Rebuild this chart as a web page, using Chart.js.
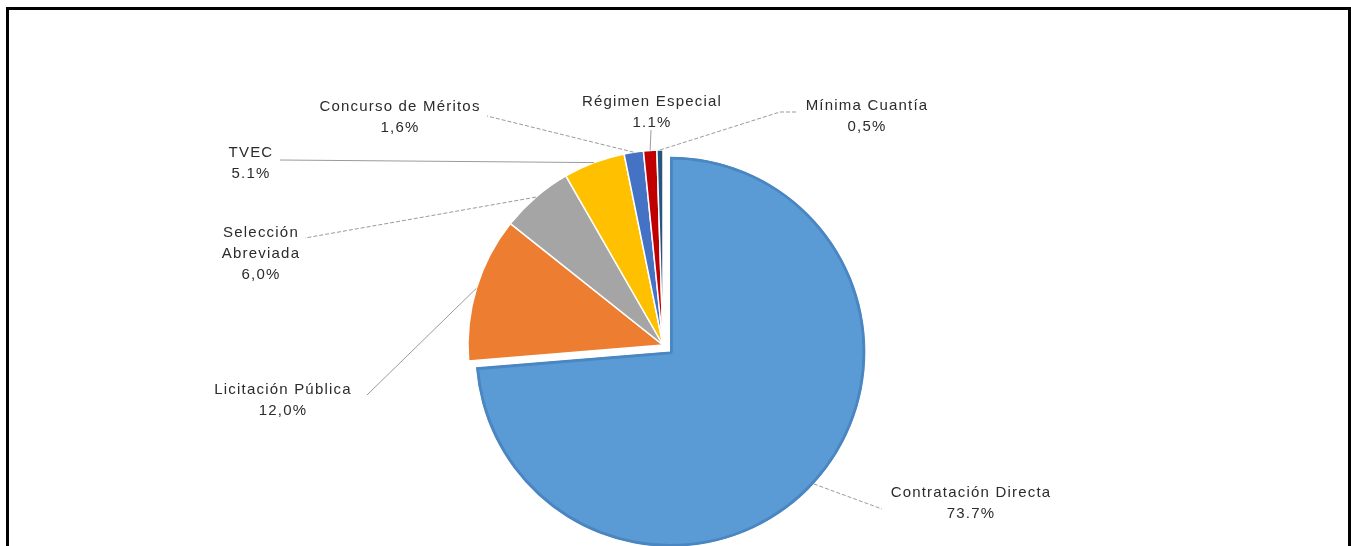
<!DOCTYPE html>
<html><head><meta charset="utf-8">
<script src="https://cdn.jsdelivr.net/npm/chart.js@4/dist/chart.umd.min.js"></script>
<style>
html,body{margin:0;padding:0;background:#fff;width:1351px;height:546px;overflow:hidden;}
#wrap{position:absolute;left:0;top:0;width:1351px;height:546px;}
#frame{position:absolute;left:6px;top:7px;width:1345px;height:600px;box-sizing:border-box;border:3px solid #000;border-bottom:none;pointer-events:none;}
</style></head><body>
<div id="wrap"><canvas id="c" width="1351" height="546"></canvas></div>
<div id="frame"></div>
<script>
// ---- data ----
const categories = ['Contratación Directa', 'Licitación Pública', 'Selección Abreviada', 'TVEC', 'Concurso de Méritos', 'Régimen Especial', 'Mínima Cuantía'];
const values = [73.7, 12.0, 6.0, 5.1, 1.6, 1.1, 0.5];
const percentLabels = ['73.7%', '12,0%', '6,0%', '5.1%', '1,6%', '1.1%', '0,5%'];

// ---- styles / layout ----
const colors = ['#5b9bd5', '#ed7d31', '#a5a5a5', '#ffc000', '#4472c4', '#c00000', '#26557f'];
const borderColors = ['#4a86c1', '#ffffff', '#ffffff', '#ffffff', '#ffffff', '#ffffff', '#ffffff'];
const borderWidths = [2.5, 1.5, 1.5, 1.5, 1.5, 1.5, 1.5];
const explode = [10, 0, 0, 0, 0, 0, 0];
// label text centre, line centres, leader attach point, optional elbow, line-wrap
const labelLayout = [
  {x: 971, y: 493, ax: 882, ay: 509, dash: true},
  {x: 283, y: 390, ax: 367, ay: 395, dash: false},
  {x: 261, y: 233, ax: 305, ay: 238, dash: true, wrap: true},
  {x: 251, y: 153, ax: 280, ay: 160, dash: false},
  {x: 400, y: 107, ax: 487, ay: 116, dash: true},
  {x: 652, y: 102, ax: 651, ay: 130, dash: false},
  {x: 867, y: 106, ax: 798, ay: 112, ex: 780, ey: 112, dash: true}
];
const lineGap = 21;

const explodePlugin = {
  id: 'explode',
  afterDatasetUpdate(chart, args) {
    const meta = chart.getDatasetMeta(args.index);
    meta.data.forEach((arc, i) => {
      const d = explode[i] || 0;
      if (!d) return;
      const mid = (arc.startAngle + arc.endAngle) / 2;
      arc.x += Math.cos(mid) * d;
      arc.y += Math.sin(mid) * d;
    });
  }
};

const labelPlugin = {
  id: 'outLabels',
  afterDatasetsDraw(chart) {
    const ctx = chart.ctx;
    const meta = chart.getDatasetMeta(0);
    ctx.save();
    meta.data.forEach((arc, i) => {
      const L = labelLayout[i];
      const mid = (arc.startAngle + arc.endAngle) / 2;
      const r = arc.outerRadius;
      const px = arc.x + Math.cos(mid) * r;
      const py = arc.y + Math.sin(mid) * r;
      ctx.beginPath();
      ctx.strokeStyle = '#9a9a9a';
      ctx.lineWidth = 1;
      ctx.setLineDash(L.dash ? [4, 2] : []);
      ctx.moveTo(px, py);
      if (L.ex !== undefined) ctx.lineTo(L.ex, L.ey);
      ctx.lineTo(L.ax, L.ay);
      ctx.stroke();
      ctx.setLineDash([]);
      const lines = L.wrap ? categories[i].split(' ') : [categories[i]];
      lines.push(percentLabels[i]);
      ctx.fillStyle = '#2b2b2b';
      ctx.font = '15px "Liberation Sans", Arial, sans-serif';
      ctx.letterSpacing = '1.2px';
      ctx.textAlign = 'center';
      ctx.textBaseline = 'middle';
      lines.forEach((t, k) => ctx.fillText(t, L.x, L.y + k * lineGap));
    });
    ctx.restore();
  }
};

new Chart(document.getElementById('c'), {
  type: 'pie',
  data: {
    labels: categories,
    datasets: [{
      data: values,
      backgroundColor: colors,
      borderColor: borderColors,
      borderWidth: borderWidths,
      borderAlign: (c) => c.dataIndex === 0 ? 'inner' : 'center',
      clip: false
    }]
  },
  options: {
    responsive: false,
    animation: false,
    events: [],
    radius: 195,
    layout: {padding: {left: 0, right: 25, top: 144, bottom: 0}},
    plugins: {legend: {display: false}, tooltip: {enabled: false}}
  },
  plugins: [explodePlugin, labelPlugin]
});
</script>
</body></html>
